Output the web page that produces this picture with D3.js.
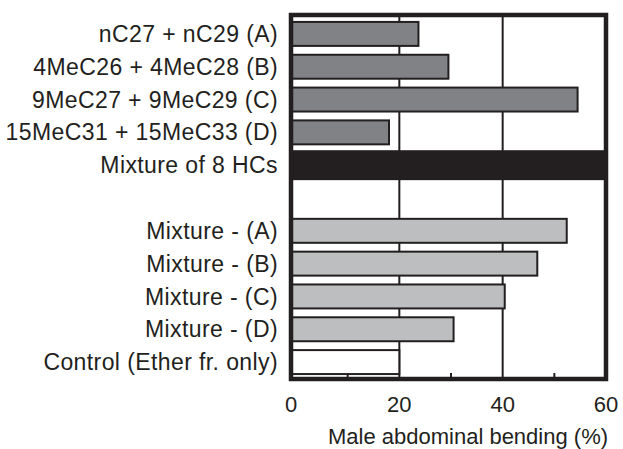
<!DOCTYPE html>
<html lang="en">
<head>
    <meta charset="UTF-8">
    <title>Male abdominal bending</title>
    <script src="https://d3js.org/d3.v7.min.js"></script>
    <style>
        body {
            margin: 0;
            background: white;
        }
        svg {
            display: block;
            font-family: "Liberation Sans", Arial, sans-serif;
        }
        .grid-line {
            stroke: #231f20;
            stroke-width: 2;
        }
        .label {
            font-size: 22px;
            fill: #231f20;
        }
        .cat-label {
            font-size: 23px;
            letter-spacing: 0.4px;
            fill: #231f20;
        }
    </style>
</head>
<body>
    <script>
        const width = 623;
        const height = 449;

        // rows from top to bottom; "" is the empty spacer row
        const categories = [
            "nC27 + nC29 (A)",
            "4MeC26 + 4MeC28 (B)",
            "9MeC27 + 9MeC29 (C)",
            "15MeC31 + 15MeC33 (D)",
            "Mixture of 8 HCs",
            "",
            "Mixture - (A)",
            "Mixture - (B)",
            "Mixture - (C)",
            "Mixture - (D)",
            "Control (Ether fr. only)"
        ];
        const values = [23.7, 29.5, 54.5, 18, 60, null, 52.4, 46.7, 40.4, 30.5, 20];
        const groups = ["single", "single", "single", "single", "mix", null, "minus", "minus", "minus", "minus", "control"];
        const xTicks = [0, 20, 40, 60];
        const minorTicks = [10, 30, 50];

        const fills = { single: "#808285", mix: "#231f20", minus: "#bcbec0", control: "#ffffff" };

        const rows = categories.map((c, i) => ({ id: i, label: c, value: values[i], group: groups[i] }));

        const x = d3.scaleLinear().domain([0, 60]).range([296, 606]);
        const y = d3.scaleBand().domain(rows.map(d => d.id)).range([18, 378]).paddingInner(0.27).paddingOuter(0.12);

        const svg = d3.select("body").append("svg")
            .attr("width", width)
            .attr("height", height);

        const frameLeft = 291, frameRight = 606, frameTop = 15, frameBottom = 379;

        // vertical grid lines at 20 and 40
        svg.append("g").selectAll("line")
            .data([20, 40])
            .enter().append("line")
            .attr("class", "grid-line")
            .attr("x1", d => x(d)).attr("x2", d => x(d))
            .attr("y1", frameTop).attr("y2", frameBottom);

        // bars
        const barRows = rows.filter(d => d.value !== null);
        svg.append("g").selectAll("rect")
            .data(barRows)
            .enter().append("rect")
            .attr("x", frameLeft)
            .attr("y", d => d.group === "mix" ? y(d.id) - 2 : y(d.id))
            .attr("width", d => x(d.value) - frameLeft)
            .attr("height", d => d.group === "mix" ? y.bandwidth() + 4 : y.bandwidth())
            .attr("fill", d => fills[d.group])
            .attr("stroke", "#231f20")
            .attr("stroke-width", 2);

        // frame
        svg.append("rect")
            .attr("x", frameLeft).attr("y", frameTop)
            .attr("width", frameRight - frameLeft)
            .attr("height", frameBottom - frameTop)
            .attr("fill", "none")
            .attr("stroke", "#231f20")
            .attr("stroke-width", 4.5);

        // minor ticks pointing inward from the bottom
        svg.append("g").selectAll("line")
            .data(minorTicks)
            .enter().append("line")
            .attr("x1", d => x(d)).attr("x2", d => x(d))
            .attr("y1", frameBottom).attr("y2", frameBottom - 6)
            .attr("stroke", "#231f20")
            .attr("stroke-width", 2);

        // category labels
        svg.append("g").selectAll("text")
            .data(rows.filter(d => d.label !== ""))
            .enter().append("text")
            .attr("class", "cat-label")
            .attr("x", 278)
            .attr("y", d => y(d.id) + y.bandwidth() / 2)
            .attr("dy", "0.35em")
            .attr("text-anchor", "end")
            .text(d => d.label);

        // x tick labels
        svg.append("g").selectAll("text")
            .data(xTicks)
            .enter().append("text")
            .attr("class", "label")
            .attr("x", d => x(d) - (d === 0 ? 5 : 0))
            .attr("y", 412)
            .attr("text-anchor", "middle")
            .text(d => d);

        // axis title
        svg.append("text")
            .attr("class", "label")
            .attr("x", 468)
            .attr("y", 444)
            .attr("text-anchor", "middle")
            .text("Male abdominal bending (%)");
    </script>
</body>
</html>
